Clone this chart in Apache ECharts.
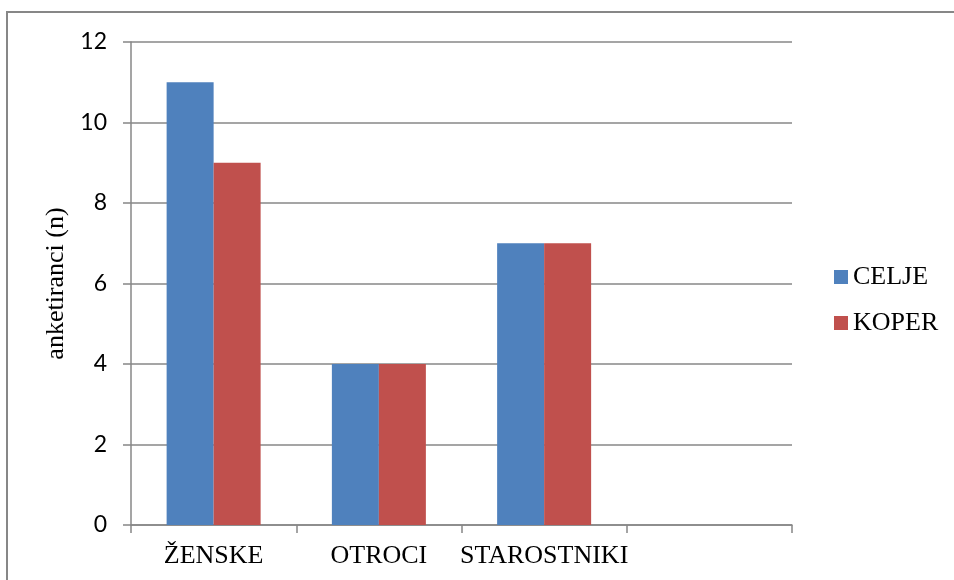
<!DOCTYPE html>
<html>
<head>
<meta charset="utf-8">
<script src="https://cdn.jsdelivr.net/npm/echarts@6/dist/echarts.min.js"></script>
<style>
  html, body { margin: 0; padding: 0; background: #ffffff; }
  #chart { width: 954px; height: 580px; }
</style>
</head>
<body>
<div id="chart"></div>
<script>
// Respondent groups and counts per town
var categories = ['ŽENSKE', 'OTROCI', 'STAROSTNIKI', ''];
var celje = [11, 4, 7, null];
var koper = [9, 4, 7, null];
var yTicks = [0, 2, 4, 6, 8, 10, 12];

var serif = '"Liberation Serif", "Times New Roman", serif';
var sans = 'Lato, "Open Sans", sans-serif';
var gridGray = '#878787';

var chart = echarts.init(document.getElementById('chart'), null, { renderer: 'canvas' });

chart.setOption({
  animation: false,
  backgroundColor: '#ffffff',
  graphic: [{
    type: 'rect',
    shape: { x: 7, y: 12, width: 980, height: 620 },
    style: { fill: 'none', stroke: gridGray, lineWidth: 2 },
    silent: true
  }],
  legend: {
    orient: 'vertical',
    left: 834,
    top: 264,
    padding: 0,
    itemWidth: 14,
    itemHeight: 14,
    itemGap: 20,
    icon: 'rect',
    textStyle: { fontFamily: serif, fontSize: 26, color: '#000000' },
    data: ['CELJE', 'KOPER']
  },
  grid: { left: 131, right: 162, top: 42, bottom: 55, containLabel: false },
  xAxis: {
    type: 'category',
    data: categories,
    axisLine: { show: true, lineStyle: { color: gridGray, width: 1.5 } },
    axisTick: { show: true, length: 8, alignWithLabel: false, lineStyle: { color: gridGray, width: 1.5 } },
    axisLabel: { fontFamily: serif, fontSize: 26, color: '#000000', margin: 18, interval: 0 },
    splitLine: { show: false }
  },
  yAxis: {
    type: 'value',
    min: yTicks[0],
    max: yTicks[yTicks.length - 1],
    interval: 2,
    name: 'anketiranci (n)',
    nameLocation: 'middle',
    nameRotate: 90,
    nameGap: 59,
    nameTextStyle: { fontFamily: serif, fontSize: 26, color: '#000000' },
    axisLine: { show: true, lineStyle: { color: gridGray, width: 1.5 } },
    axisTick: { show: true, length: 8, lineStyle: { color: gridGray, width: 1.5 } },
    axisLabel: { fontFamily: sans, fontSize: 23, color: '#000000', margin: 24 },
    splitLine: { show: true, lineStyle: { color: gridGray, width: 1.5 } }
  },
  series: [
    {
      name: 'CELJE',
      type: 'bar',
      data: celje,
      barWidth: 47,
      barGap: '0%',
      itemStyle: { color: '#4F81BD' }
    },
    {
      name: 'KOPER',
      type: 'bar',
      data: koper,
      barWidth: 47,
      barGap: '0%',
      itemStyle: { color: '#C0504D' }
    }
  ]
});
</script>
</body>
</html>
